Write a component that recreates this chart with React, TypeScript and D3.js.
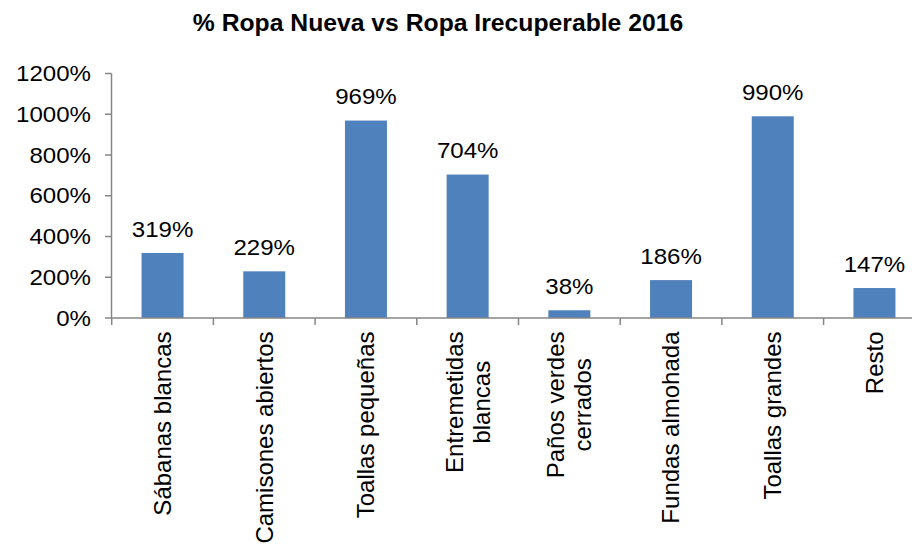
import React from "react";
import * as d3 from "d3";

const categories: string[][] = [
  ["Sábanas blancas"],
  ["Camisones abiertos"],
  ["Toallas pequeñas"],
  ["Entremetidas", "blancas"],
  ["Paños verdes", "cerrados"],
  ["Fundas almohada"],
  ["Toallas grandes"],
  ["Resto"],
];
const values: number[] = [319, 229, 969, 704, 38, 186, 990, 147];
const yTicks: number[] = [0, 200, 400, 600, 800, 1000, 1200];
const title = "% Ropa Nueva vs Ropa Irecuperable 2016";

const W = 912;
const H = 544;
const FONT = "'Liberation Sans', Arial, sans-serif";

function measure(text: string, size: number): number {
  const c = document.createElement("canvas");
  const ctx = c.getContext("2d");
  if (!ctx) return text.length * size * 0.5;
  ctx.font = `${size}px 'Liberation Sans', Arial, sans-serif`;
  return ctx.measureText(text).width;
}

export default function App() {
  const keys = categories.map((c) => c.join(" "));
  const x = d3
    .scaleBand<string>()
    .domain(keys)
    .range([111.7, 925.3])
    .paddingInner(0.587)
    .paddingOuter(0.2935);
  const y = d3.scaleLinear().domain([0, 1200]).range([318, 73.5]);
  const step = x.step();
  const axisColor = "#868686";
  const catSize = 24;
  const lineH = 27;
  const labelTop = 331.5;

  return (
    <svg
      width={W}
      height={H}
      style={{ position: "absolute", left: 0, top: 0, background: "#fff" }}
      fontFamily={FONT}
    >
      <rect width={W} height={H} fill="#fff" />
      <g transform={`translate(438,31) scale(1.03,1)`}>
        <text textAnchor="middle" fontSize={24} fontWeight="bold" fill="#000">
          {title}
        </text>
      </g>

      {/* bars */}
      {values.map((v, i) => (
        <rect
          key={keys[i]}
          x={x(keys[i])}
          y={y(v)}
          width={x.bandwidth()}
          height={y(0) - y(v)}
          fill="#4F81BD"
        />
      ))}

      {/* data labels */}
      {values.map((v, i) => (
        <g
          key={"l" + i}
          transform={`translate(${(x(keys[i]) as number) + x.bandwidth() / 2},${y(v) - 16.5}) scale(1.12,1)`}
        >
          <text textAnchor="middle" fontSize={21.5} fill="#000">
            {v}%
          </text>
        </g>
      ))}

      {/* y axis */}
      <line x1={111.5} x2={111.5} y1={y(1200)} y2={y(0)} stroke={axisColor} strokeWidth={1.5} />
      {yTicks.map((t) => (
        <g key={"t" + t}>
          <line x1={105} x2={111.5} y1={y(t)} y2={y(t)} stroke={axisColor} strokeWidth={1.5} />
          <g transform={`translate(91,${y(t)}) scale(1.12,1)`}>
            <text textAnchor="end" dy="0.35em" fontSize={21.5} fill="#000">
              {t}%
            </text>
          </g>
        </g>
      ))}

      {/* x axis */}
      <line x1={111.5} x2={W} y1={y(0)} y2={y(0)} stroke={axisColor} strokeWidth={1.5} />
      {keys.map((k, i) => {
        const xs = (x(k) as number) - (step - x.bandwidth()) / 2;
        return (
          <line key={"xt" + i} x1={xs} x2={xs} y1={y(0)} y2={y(0) + 7} stroke={axisColor} strokeWidth={1.5} />
        );
      })}

      {/* category labels */}
      {categories.map((lines, i) => {
        const cx = (x(keys[i]) as number) + x.bandwidth() / 2;
        const maxW = Math.max(...lines.map((l) => measure(l, catSize)));
        const n = lines.length;
        return (
          <g key={"c" + i} transform={`translate(${cx},${labelTop}) rotate(-90)`}>
            {lines.map((l, j) => (
              <text
                key={j}
                x={-maxW / 2}
                y={(j - (n - 1) / 2) * lineH}
                dy="0.35em"
                textAnchor="middle"
                fontSize={catSize}
                fill="#000"
              >
                {l}
              </text>
            ))}
          </g>
        );
      })}
    </svg>
  );
}
